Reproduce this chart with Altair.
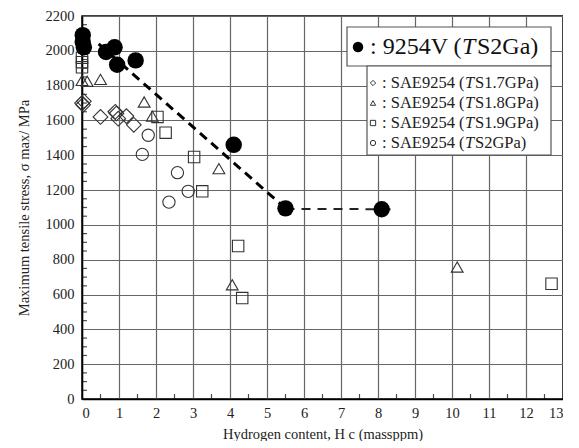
import altair as alt
import pandas as pd

# ---------------- data ----------------
v9254_x = [0.02, 0.02, 0.05, 0.65, 0.88, 0.95, 1.45, 4.1, 5.5, 8.1]
v9254_y = [2090, 2050, 2020, 1993, 2020, 1920, 1945, 1460, 1095, 1090]

d17_x = [0.0, 0.03, 0.05, 0.5, 0.9, 0.93, 0.98, 1.2, 1.4]
d17_y = [1700, 1690, 1710, 1620, 1650, 1640, 1610, 1625, 1575]

t18_x = [0.0, 0.14, 0.5, 1.68, 1.9, 3.7, 4.06, 10.14]
t18_y = [1830, 1825, 1836, 1706, 1625, 1323, 656, 758]

s19_x = [0.0, 0.0, 0.0, 2.04, 2.26, 3.03, 3.25, 4.22, 4.33, 12.69]
s19_y = [1960, 1935, 1905, 1620, 1530, 1390, 1193, 879, 580, 662]

c20_x = [1.63, 1.79, 2.35, 2.58, 2.87]
c20_y = [1405, 1515, 1131, 1300, 1193]

fit_x = [0.45, 5.5]
fit_y = [2040, 1095]
plateau_x = [5.5, 8.5]
plateau_y = [1092, 1090]

x_ticks = list(range(0, 14))
y_ticks = list(range(0, 2201, 200))
x_minor = [i + 0.5 for i in range(13)]
y_minor = [v for v in range(50, 2200, 50) if v % 200 != 0]

legend_main = ": 9254V ("
legend_main_end = "S2Ga)"
legend_labels = [": SAE9254 (", ": SAE9254 (", ": SAE9254 (", ": SAE9254 ("]
legend_ends = ["S1.7GPa)", "S1.8GPa)", "S1.9GPa)", "S2GPa)"]
legend_shapes = ["diamond", "triangle-up", "square", "circle"]

FONT = "Liberation Serif"
W, H = 481, 383

xs = alt.Scale(domain=[0, 13], nice=False, zero=False)
ys = alt.Scale(domain=[0, 2200], nice=False)

xax = alt.Axis(values=x_ticks, title="Hydrogen content, H c (massppm)", grid=True, format="d",
               ticks=False, labelPadding=7, titlePadding=8,
               labelFont=FONT, titleFont=FONT, labelFontSize=14.5, titleFontSize=14.5,
               labelColor="#222", titleColor="#222", titleFontWeight="normal")
yax = alt.Axis(values=y_ticks, title="Maximum tensile stress, σ max/ MPa", grid=True, format="d",
               ticks=False, labelPadding=8, titlePadding=14,
               labelFont=FONT, titleFont=FONT, labelFontSize=14.5, titleFontSize=14.5,
               labelColor="#222", titleColor="#222", titleFontWeight="normal")


def pts(xv, yv):
    return pd.DataFrame({"x": xv, "y": yv})


def scatter(xv, yv, shape, size, filled):
    if filled:
        mk = alt.Chart(pts(xv, yv)).mark_point(shape=shape, size=size, filled=True,
                                                 color="black", opacity=1)
    else:
        mk = alt.Chart(pts(xv, yv)).mark_point(shape=shape, size=size, filled=False,
                                                 color="#333333", strokeWidth=1.1, opacity=1)
    return mk.encode(x=alt.X("x:Q", scale=xs, axis=xax),
                     y=alt.Y("y:Q", scale=ys, axis=yax))


# minor ticks
xminor = alt.Chart(pd.DataFrame({"x": x_minor})).mark_tick(
    color="black", thickness=1.2, size=5, orient="vertical").encode(
    x=alt.X("x:Q", scale=xs, axis=xax), y=alt.value(H - 2.5))
yminor = alt.Chart(pd.DataFrame({"y": y_minor})).mark_tick(
    color="black", thickness=1.2, size=5, orient="horizontal").encode(
    y=alt.Y("y:Q", scale=ys, axis=yax), x=alt.value(2.5))

fit = alt.Chart(pts(fit_x, fit_y)).mark_line(
    color="black", strokeWidth=3, strokeDash=[9, 6]).encode(
    x=alt.X("x:Q", scale=xs, axis=xax), y=alt.Y("y:Q", scale=ys, axis=yax))
plateau = alt.Chart(pts(plateau_x, plateau_y)).mark_line(
    color="#222222", strokeWidth=2, strokeDash=[9, 7]).encode(
    x=alt.X("x:Q", scale=xs, axis=xax), y=alt.Y("y:Q", scale=ys, axis=yax))

one = pd.DataFrame({"a": [0]})

# legend boxes
box1 = alt.Chart(one).mark_rect(fill="white", stroke="#555555", strokeWidth=1.2).encode(
    x=alt.value(265), x2=alt.value(469), y=alt.value(11), y2=alt.value(50))
box2 = alt.Chart(one).mark_rect(fill="white", stroke="#555555", strokeWidth=1.2).encode(
    x=alt.value(285), x2=alt.value(469), y=alt.value(50), y2=alt.value(139))

leg_layers = [box1, box2]
leg_layers.append(alt.Chart(one).mark_point(shape="circle", size=110, filled=True,
                                             color="black", opacity=1).encode(
    x=alt.value(276), y=alt.value(31)))
leg_layers.append(alt.Chart(one).mark_text(text=legend_main, font=FONT, fontSize=24,
                                            align="left", baseline="middle", color="#111").encode(
    x=alt.value(288), y=alt.value(31)))
leg_layers.append(alt.Chart(one).mark_text(text="T", font=FONT, fontSize=24, fontStyle="italic",
                                            align="left", baseline="middle", color="#111").encode(
    x=alt.value(380), y=alt.value(31)))
leg_layers.append(alt.Chart(one).mark_text(text=legend_main_end, font=FONT, fontSize=24,
                                            align="left", baseline="middle", color="#111").encode(
    x=alt.value(395), y=alt.value(31)))

row_y = [67, 87, 107, 127]
for shp, lab, end, yy in zip(legend_shapes, legend_labels, legend_ends, row_y):
    leg_layers.append(alt.Chart(one).mark_point(shape=shp, size=28, filled=False,
                                                 color="#333333", strokeWidth=1, opacity=1).encode(
        x=alt.value(291), y=alt.value(yy)))
    leg_layers.append(alt.Chart(one).mark_text(text=lab, font=FONT, fontSize=16.5,
                                                align="left", baseline="middle", color="#222").encode(
        x=alt.value(300), y=alt.value(yy)))
    leg_layers.append(alt.Chart(one).mark_text(text="T", font=FONT, fontSize=16.5, fontStyle="italic",
                                                align="left", baseline="middle", color="#222").encode(
        x=alt.value(383), y=alt.value(yy)))
    leg_layers.append(alt.Chart(one).mark_text(text=end, font=FONT, fontSize=16.5,
                                                align="left", baseline="middle", color="#222").encode(
        x=alt.value(393), y=alt.value(yy)))

chart = alt.layer(
    xminor, yminor,
    scatter(d17_x, d17_y, "diamond", 215, False),
    scatter(t18_x, t18_y, "triangle-up", 140, False),
    scatter(s19_x, s19_y, "square", 130, False),
    scatter(c20_x, c20_y, "circle", 150, False),
    fit, plateau,
    scatter(v9254_x, v9254_y, "circle", 270, True),
    *leg_layers,
).properties(
    width=W, height=H, padding={"left": 8, "top": 0, "right": 0, "bottom": 0}
).configure_view(
    stroke="black", strokeWidth=1.5
).configure_axis(
    gridColor="#666666", gridWidth=1.2, gridOpacity=1,
    domainColor="black", domainWidth=1.5,
)

chart.save("out.html", embed_options={"renderer": "svg", "actions": False})
